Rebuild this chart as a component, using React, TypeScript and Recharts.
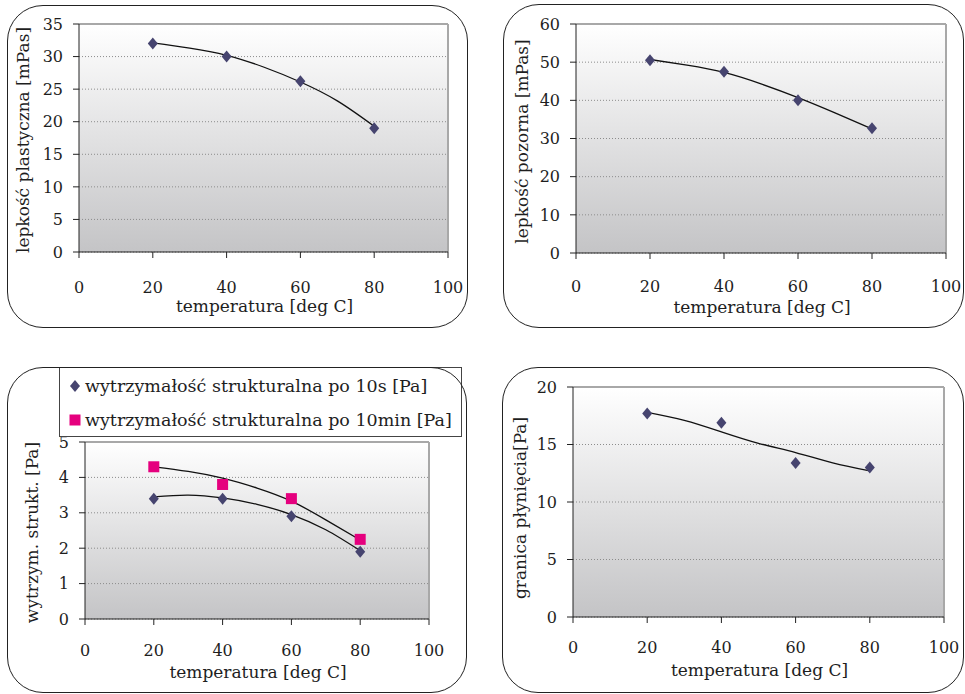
import React from 'react';
import {
    ComposedChart,
    Line,
    Scatter,
    XAxis,
    YAxis,
    CartesianGrid,
    ReferenceLine,
    Legend,
    Label,
} from 'recharts';

const FONT = '"DejaVu Serif", "Liberation Serif", serif';
const TEXT = '#1e1e1e';
const NAVY = '#46446f';
const MAGENTA = '#e5007e';

// shared x axis
const temperatures = [20, 40, 60, 80];
const trendTemperatures = [20, 30, 40, 50, 60, 70, 80];
const xTicks = [0, 20, 40, 60, 80, 100];
const xTitle = 'temperatura [deg C]';

// lepkość plastyczna
const plasticViscosity = [32, 30, 26.2, 19];
const plasticViscosityTrend = [32.1, 31.3, 30.2, 28.4, 26.1, 23.2, 19.3];
const plasticTicks = [0, 5, 10, 15, 20, 25, 30, 35];

// lepkość pozorna
const apparentViscosity = [50.5, 47.5, 40, 32.7];
const apparentViscosityTrend = [50.7, 49.2, 47.3, 44.3, 40.7, 36.7, 32.5];
const apparentTicks = [0, 10, 20, 30, 40, 50, 60];

// wytrzymałość strukturalna
const gel10s = [3.4, 3.4, 2.9, 1.9];
const gel10sTrend = [3.45, 3.5, 3.42, 3.24, 2.95, 2.52, 1.93];
const gel10min = [4.3, 3.8, 3.4, 2.25];
const gel10minTrend = [4.3, 4.17, 3.98, 3.7, 3.33, 2.8, 2.23];
const gelTicks = [0, 1, 2, 3, 4, 5];

// granica płynięcia
const yieldPoint = [17.7, 16.9, 13.4, 13.0];
const yieldPointTrend = [17.8, 17.1, 16.1, 15.1, 14.3, 13.4, 12.7];
const yieldTicks = [0, 5, 10, 15, 20];

const toPoints = (xs: number[], ys: number[]) => xs.map((x, i) => ({ x, y: ys[i] }));

const Y_AXIS_W = 60;
const X_AXIS_H = 30;

type Series = {
    name: string;
    points: { x: number; y: number }[];
    trend: { x: number; y: number }[];
    shape: 'diamond' | 'square';
};

type Box = { left: number; top: number; width: number; height: number };
type Plot = { left: number; top: number; right: number; bottom: number };

const Marker = ({ cx, cy, shape }: { cx: number; cy: number; shape: string }) =>
    shape === 'square' ? (
        <rect x={cx - 5.5} y={cy - 5.5} width={11} height={11} fill={MAGENTA} />
    ) : (
        <polygon
            points={`${cx},${cy - 6} ${cx + 5},${cy} ${cx},${cy + 6} ${cx - 5},${cy}`}
            fill={NAVY}
        />
    );

// only the scatter entries, in the order of the series list
const LegendBox = ({ payload, series }: any) => {
    const entries = series.filter((s: Series) =>
        (payload ?? []).some((e: any) => e.value === s.name),
    );
    return (
        <div
            style={{
                width: 403,
                height: 70,
                boxSizing: 'border-box',
                border: '1px solid #444',
                background: '#fff',
                position: 'relative',
            }}
        >
            {entries.map((s: Series, i: number) => (
                <React.Fragment key={s.name}>
                    <svg
                        width={26}
                        height={22}
                        style={{ position: 'absolute', left: 0, top: i === 0 ? 7 : 41 }}
                    >
                        <Marker cx={15} cy={11} shape={s.shape} />
                    </svg>
                    <span
                        style={{
                            position: 'absolute',
                            left: 25,
                            top: i === 0 ? 7 : 41,
                            lineHeight: '22px',
                            fontFamily: FONT,
                            fontSize: 17.5,
                            color: TEXT,
                            whiteSpace: 'nowrap',
                        }}
                    >
                        {s.name}
                    </span>
                </React.Fragment>
            ))}
        </div>
    );
};

interface PanelProps {
    id: string;
    box: Box;
    plot: Plot;
    frame: Box;
    yMax: number;
    yTicks: number[];
    yTitle: string;
    yTitleDx: number;
    yTitleDy: number;
    xTitleDy: number;
    xTickMargin: number;
    series: Series[];
    legend?: boolean;
}

function Panel(p: PanelProps) {
    const margin = {
        top: p.plot.top - p.box.top,
        bottom: p.box.top + p.box.height - p.plot.bottom - X_AXIS_H,
        left: p.plot.left - p.box.left - Y_AXIS_W,
        right: p.box.left + p.box.width - p.plot.right,
    };
    const tick = { fill: TEXT, fontSize: 16, fontFamily: FONT };

    const yTitle = (props: any) => {
        const { x, y, width, height } = props.viewBox;
        const cx = x + width - p.yTitleDx;
        const cy = y + height / 2 + p.yTitleDy;
        return (
            <text
                x={cx}
                y={cy}
                transform={`rotate(-90 ${cx} ${cy})`}
                textAnchor="middle"
                fill={TEXT}
                fontSize={17}
                fontFamily={FONT}
            >
                {p.yTitle}
            </text>
        );
    };
    const xTitleEl = (props: any) => {
        const { x, y, width } = props.viewBox;
        return (
            <text
                x={x + width / 2 + 1}
                y={y + p.xTitleDy}
                textAnchor="middle"
                fill={TEXT}
                fontSize={17}
                fontFamily={FONT}
            >
                {xTitle}
            </text>
        );
    };

    return (
        <>
            <div style={{ position: 'absolute', left: p.box.left, top: p.box.top }}>
                <ComposedChart width={p.box.width} height={p.box.height} margin={margin}>
                    <defs>
                        <linearGradient id={`bg-${p.id}`} x1="0" y1="0" x2="0" y2="1">
                            <stop offset="0" stopColor="#ffffff" />
                            <stop offset="1" stopColor="#c4c4c6" />
                        </linearGradient>
                    </defs>
                    <CartesianGrid
                        fill={`url(#bg-${p.id})`}
                        fillOpacity={1}
                        vertical={false}
                        stroke="#8c8c8c"
                        strokeDasharray="1 2"
                    />
                    <XAxis
                        type="number"
                        dataKey="x"
                        domain={[0, 100]}
                        ticks={xTicks}
                        interval={0}
                        height={X_AXIS_H}
                        tick={tick}
                        tickSize={6}
                        tickMargin={p.xTickMargin}
                        axisLine={{ stroke: '#222' }}
                        tickLine={{ stroke: '#222' }}
                    >
                        <Label content={xTitleEl} />
                    </XAxis>
                    <YAxis
                        type="number"
                        dataKey="y"
                        domain={[0, p.yMax]}
                        ticks={p.yTicks}
                        interval={0}
                        width={Y_AXIS_W}
                        tick={tick}
                        tickSize={6}
                        tickMargin={10}
                        axisLine={{ stroke: '#222' }}
                        tickLine={{ stroke: '#222' }}
                    >
                        <Label content={yTitle} />
                    </YAxis>
                    <ReferenceLine y={p.yMax} stroke="#a8a8a8" strokeWidth={2} />
                    <ReferenceLine x={100} stroke="#a8a8a8" strokeWidth={2} />
                    {p.series.map((s) => (
                        <Scatter
                            key={`pts-${s.name}`}
                            name={s.name}
                            data={s.points}
                            fill={s.shape === 'square' ? MAGENTA : NAVY}
                            shape={(props: any) => <Marker cx={props.cx} cy={props.cy} shape={s.shape} />}
                            isAnimationActive={false}
                        />
                    ))}
                    {p.series.map((s) => (
                        <Line
                            key={`trend-${s.name}`}
                            name={`trend-${s.name}`}
                            data={s.trend}
                            dataKey="y"
                            type="natural"
                            stroke="#111"
                            strokeWidth={1.3}
                            dot={false}
                            activeDot={false}
                            legendType="none"
                            isAnimationActive={false}
                        />
                    ))}
                    {p.legend && (
                        <Legend
                            layout="vertical"
                            align="center"
                            verticalAlign="middle"
                            wrapperStyle={{ left: 59 - p.box.left, top: 367 - p.box.top, width: 403, height: 70 }}
                            content={(props: any) => <LegendBox payload={props.payload} series={p.series} />}
                        />
                    )}
                </ComposedChart>
            </div>
            <div
                style={{
                    position: 'absolute',
                    left: p.frame.left,
                    top: p.frame.top,
                    width: p.frame.width,
                    height: p.frame.height,
                    boxSizing: 'border-box',
                    border: '1.5px solid #222',
                    borderRadius: 36,
                    pointerEvents: 'none',
                }}
            />
        </>
    );
}

export default function App() {
    return (
        <div
            style={{
                position: 'absolute',
                left: 0,
                top: 0,
                width: 965,
                height: 694,
                background: '#fff',
                overflow: 'hidden',
                fontFamily: FONT,
            }}
        >
            <Panel
                id="p1"
                box={{ left: 0, top: 0, width: 482, height: 335 }}
                plot={{ left: 79, top: 24, right: 448, bottom: 252 }}
                frame={{ left: 7, top: 5, width: 461, height: 323 }}
                yMax={35}
                yTicks={plasticTicks}
                yTitle="lepkość plastyczna [mPas]"
                yTitleDx={50}
                yTitleDy={2}
                xTitleDy={60}
                xTickMargin={24}
                series={[
                    {
                        name: 'lepkość plastyczna',
                        points: toPoints(temperatures, plasticViscosity),
                        trend: toPoints(trendTemperatures, plasticViscosityTrend),
                        shape: 'diamond',
                    },
                ]}
            />
            <Panel
                id="p2"
                box={{ left: 482, top: 0, width: 483, height: 335 }}
                plot={{ left: 576, top: 24, right: 946, bottom: 253 }}
                frame={{ left: 503, top: 4, width: 461, height: 324 }}
                yMax={60}
                yTicks={apparentTicks}
                yTitle="lepkość pozorna [mPas]"
                yTitleDx={48}
                yTitleDy={3}
                xTitleDy={60}
                xTickMargin={22}
                series={[
                    {
                        name: 'lepkość pozorna',
                        points: toPoints(temperatures, apparentViscosity),
                        trend: toPoints(trendTemperatures, apparentViscosityTrend),
                        shape: 'diamond',
                    },
                ]}
            />
            <Panel
                id="p3"
                box={{ left: 0, top: 340, width: 482, height: 354 }}
                plot={{ left: 85, top: 442, right: 429, bottom: 619 }}
                frame={{ left: 7, top: 367, width: 460, height: 326 }}
                yMax={5}
                yTicks={gelTicks}
                yTitle="wytrzym. strukt. [Pa]"
                yTitleDx={47}
                yTitleDy={2}
                xTitleDy={59}
                xTickMargin={20}
                legend
                series={[
                    {
                        name: 'wytrzymałość strukturalna po 10s [Pa]',
                        points: toPoints(temperatures, gel10s),
                        trend: toPoints(trendTemperatures, gel10sTrend),
                        shape: 'diamond',
                    },
                    {
                        name: 'wytrzymałość strukturalna po 10min [Pa]',
                        points: toPoints(temperatures, gel10min),
                        trend: toPoints(trendTemperatures, gel10minTrend),
                        shape: 'square',
                    },
                ]}
            />
            <Panel
                id="p4"
                box={{ left: 482, top: 340, width: 483, height: 354 }}
                plot={{ left: 573, top: 387, right: 944, bottom: 617 }}
                frame={{ left: 502, top: 367, width: 462, height: 326 }}
                yMax={20}
                yTicks={yieldTicks}
                yTitle="granica płynięcia[Pa]"
                yTitleDx={47}
                yTitleDy={6}
                xTitleDy={59}
                xTickMargin={19}
                series={[
                    {
                        name: 'granica płynięcia',
                        points: toPoints(temperatures, yieldPoint),
                        trend: toPoints(trendTemperatures, yieldPointTrend),
                        shape: 'diamond',
                    },
                ]}
            />
        </div>
    );
}
